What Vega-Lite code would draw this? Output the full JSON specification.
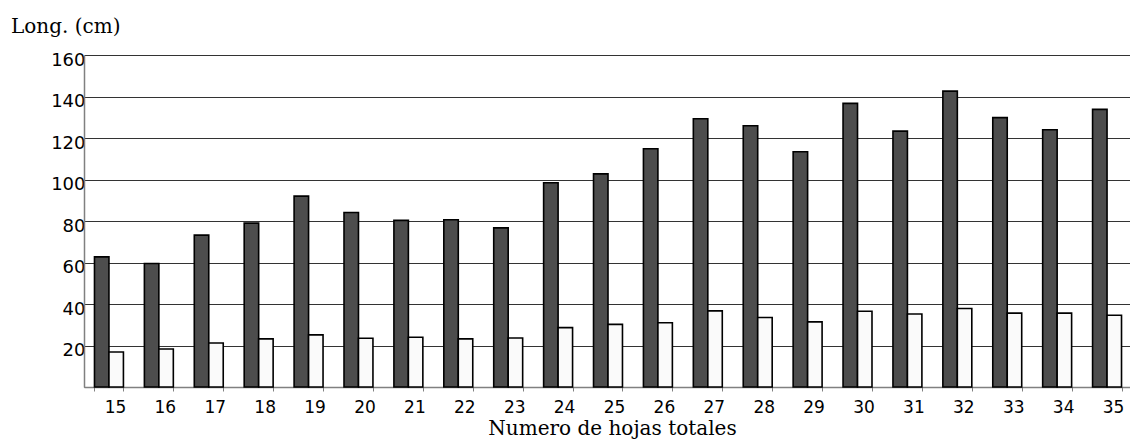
{
  "$schema": "https://vega.github.io/schema/vega-lite/v6.json",
  "autosize": {"type": "none"},
  "padding": {"left": 84, "top": 55, "right": 0, "bottom": 55},
  "width": 1048,
  "height": 332,
  "background": "white",
  "title": {
    "text": "Long. (cm)",
    "anchor": "start",
    "frame": "group",
    "font": "DejaVu Serif",
    "fontSize": 20,
    "fontWeight": "normal",
    "color": "#000000",
    "baseline": "alphabetic",
    "offset": -2,
    "dx": -73
  },
  "data": {
    "values": [
      {"n": "15", "serie": "A", "long": 62.7}, {"n": "15", "serie": "B", "long": 16.9},
      {"n": "16", "serie": "A", "long": 59.5}, {"n": "16", "serie": "B", "long": 18.3},
      {"n": "17", "serie": "A", "long": 73.2}, {"n": "17", "serie": "B", "long": 21.2},
      {"n": "18", "serie": "A", "long": 79.0}, {"n": "18", "serie": "B", "long": 23.2},
      {"n": "19", "serie": "A", "long": 92.0}, {"n": "19", "serie": "B", "long": 25.1},
      {"n": "20", "serie": "A", "long": 84.1}, {"n": "20", "serie": "B", "long": 23.5},
      {"n": "21", "serie": "A", "long": 80.3}, {"n": "21", "serie": "B", "long": 24.0},
      {"n": "22", "serie": "A", "long": 80.6}, {"n": "22", "serie": "B", "long": 23.2},
      {"n": "23", "serie": "A", "long": 76.7}, {"n": "23", "serie": "B", "long": 23.6},
      {"n": "24", "serie": "A", "long": 98.4}, {"n": "24", "serie": "B", "long": 28.6},
      {"n": "25", "serie": "A", "long": 102.7}, {"n": "25", "serie": "B", "long": 30.2},
      {"n": "26", "serie": "A", "long": 114.8}, {"n": "26", "serie": "B", "long": 31.0},
      {"n": "27", "serie": "A", "long": 129.3}, {"n": "27", "serie": "B", "long": 36.7},
      {"n": "28", "serie": "A", "long": 125.9}, {"n": "28", "serie": "B", "long": 33.5},
      {"n": "29", "serie": "A", "long": 113.4}, {"n": "29", "serie": "B", "long": 31.4},
      {"n": "30", "serie": "A", "long": 136.7}, {"n": "30", "serie": "B", "long": 36.5},
      {"n": "31", "serie": "A", "long": 123.3}, {"n": "31", "serie": "B", "long": 35.2},
      {"n": "32", "serie": "A", "long": 142.6}, {"n": "32", "serie": "B", "long": 37.8},
      {"n": "33", "serie": "A", "long": 129.8}, {"n": "33", "serie": "B", "long": 35.6},
      {"n": "34", "serie": "A", "long": 124.0}, {"n": "34", "serie": "B", "long": 35.6},
      {"n": "35", "serie": "A", "long": 133.8}, {"n": "35", "serie": "B", "long": 34.6}
    ]
  },
  "mark": {"type": "bar", "stroke": "#000000", "strokeWidth": 1.6},
  "encoding": {
    "x": {
      "field": "n",
      "type": "ordinal",
      "sort": null,
      "scale": {"paddingInner": 0.42, "paddingOuter": 0.21},
      "axis": {
        "title": "Numero de hojas totales",
        "titleFont": "DejaVu Serif",
        "titleFontSize": 20,
        "titleFontWeight": "normal",
        "titleColor": "#000000",
        "titleBaseline": "alphabetic",
        "titleY": 47,
        "titleX": 528,
        "labelAngle": 0,
        "labelFont": "DejaVu Sans",
        "labelFontSize": 17,
        "labelColor": "#000000",
        "labelOffset": 6,
        "labelPadding": 8,
        "tickBand": "extent",
        "tickSize": 4,
        "tickColor": "#808080",
        "domainColor": "#808080",
        "domainWidth": 1.5
      }
    },
    "xOffset": {"field": "serie", "type": "nominal", "scale": {"paddingInner": 0, "paddingOuter": 0}},
    "y": {
      "field": "long",
      "type": "quantitative",
      "scale": {"domain": [0, 160], "nice": false},
      "axis": {
        "title": null,
        "values": [0, 20, 40, 60, 80, 100, 120, 140, 160],
        "labelExpr": "datum.value == 0 ? '' : datum.label",
        "labelFont": "DejaVu Sans",
        "labelFontSize": 18,
        "labelColor": "#000000",
        "labelOffset": 5,
        "labelPadding": -1,
        "ticks": false,
        "grid": true,
        "gridColor": "#333333",
        "gridWidth": 1,
        "domainColor": "#808080",
        "domainWidth": 1.5
      }
    },
    "fill": {
      "field": "serie",
      "type": "nominal",
      "scale": {"domain": ["A", "B"], "range": ["#4d4d4d", "#fafafa"]},
      "legend": null
    }
  },
  "config": {"view": {"stroke": null}}
}
